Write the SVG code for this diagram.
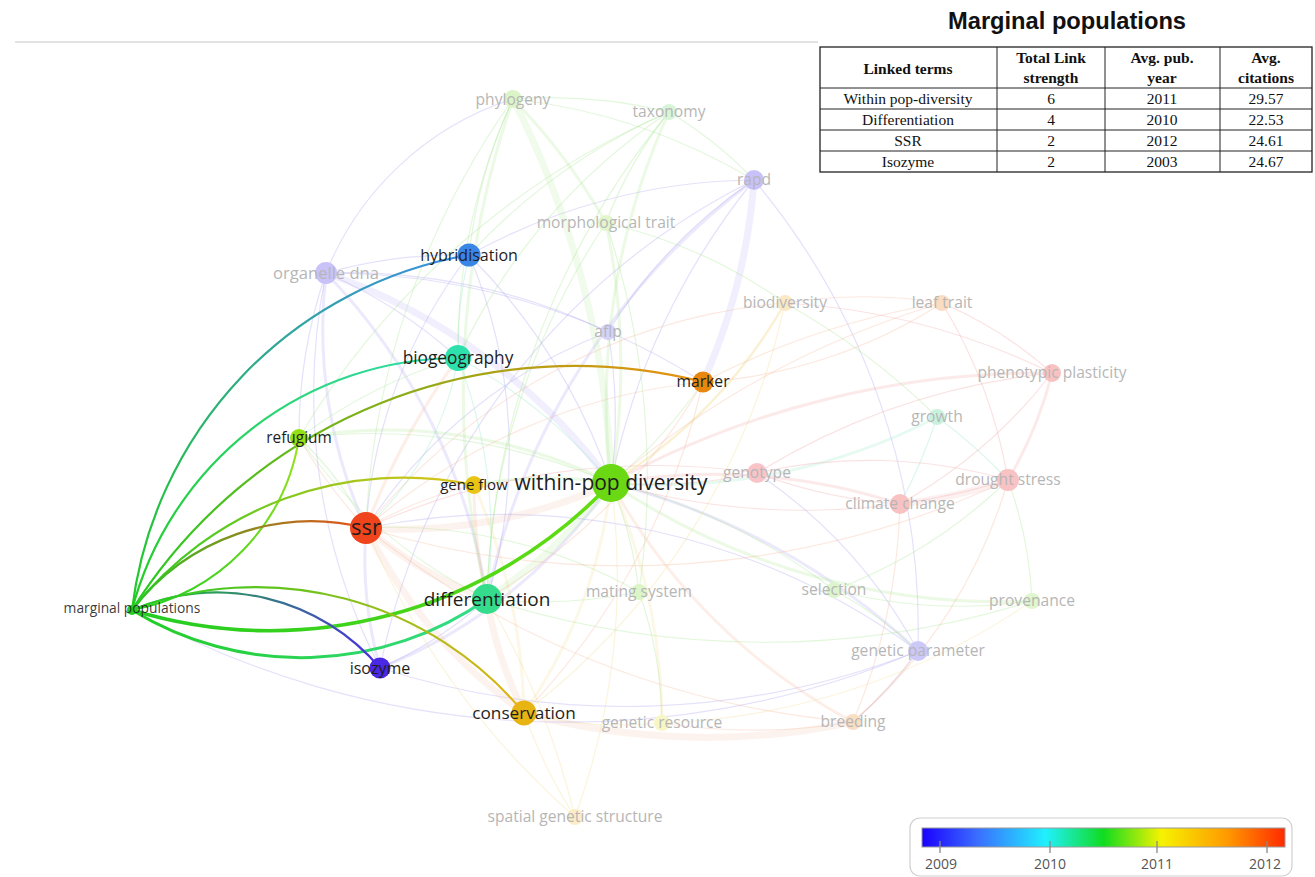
<svg xmlns="http://www.w3.org/2000/svg" width="1315" height="877" viewBox="0 0 1315 877">
<style>
.lbl{font-family:"Open Sans","Liberation Sans",sans-serif;text-anchor:middle}
.on{fill:#1e1e1e}
.off{fill:#b6b6b6}
#background-links path{fill:none;stroke-opacity:0.3;stroke-width:1.2}
.p{stroke:#a79cf0}.g{stroke:#a2e48a}.o{stroke:#f4b494}.y{stroke:#f2dc8c}.t{stroke:#8fe6c4}.r{stroke:#f3a0a0}
.w{stroke-width:7!important;stroke-opacity:0.16!important}
.m{stroke-width:3!important;stroke-opacity:0.22!important}
#marginal-links path{fill:none}
.tb{font-family:"Liberation Serif","Times New Roman",serif;font-size:15.5px;text-anchor:middle;fill:#111}
.th{font-weight:bold}
.lg{font-family:"Open Sans","Liberation Sans",sans-serif;font-size:14px;fill:#555;text-anchor:middle}
</style>
<defs>
<linearGradient id="gHyb" gradientUnits="userSpaceOnUse" x1="132" y1="610" x2="469" y2="255"><stop offset="0" stop-color="#22cc22"/><stop offset="1" stop-color="#3a8ee6"/></linearGradient>
<linearGradient id="gBio" gradientUnits="userSpaceOnUse" x1="132" y1="610" x2="458" y2="358"><stop offset="0" stop-color="#22cc22"/><stop offset="1" stop-color="#30dcb0"/></linearGradient>
<linearGradient id="gMrk" gradientUnits="userSpaceOnUse" x1="132" y1="610" x2="703" y2="382"><stop offset="0" stop-color="#22cc22"/><stop offset="1" stop-color="#e8900f"/></linearGradient>
<linearGradient id="gRef" gradientUnits="userSpaceOnUse" x1="132" y1="610" x2="299" y2="438"><stop offset="0" stop-color="#22cc22"/><stop offset="1" stop-color="#9ae21a"/></linearGradient>
<linearGradient id="gGf" gradientUnits="userSpaceOnUse" x1="132" y1="610" x2="474" y2="485"><stop offset="0" stop-color="#22cc22"/><stop offset="1" stop-color="#e2c41a"/></linearGradient>
<linearGradient id="gSsr" gradientUnits="userSpaceOnUse" x1="132" y1="610" x2="366" y2="528"><stop offset="0" stop-color="#22cc22"/><stop offset="1" stop-color="#e8501a"/></linearGradient>
<linearGradient id="gWpd" gradientUnits="userSpaceOnUse" x1="132" y1="610" x2="611" y2="483"><stop offset="0" stop-color="#22cc22"/><stop offset="1" stop-color="#66dd10"/></linearGradient>
<linearGradient id="gDif" gradientUnits="userSpaceOnUse" x1="132" y1="610" x2="487" y2="599"><stop offset="0" stop-color="#22cc22"/><stop offset="1" stop-color="#33dd8c"/></linearGradient>
<linearGradient id="gIso" gradientUnits="userSpaceOnUse" x1="132" y1="610" x2="380" y2="668"><stop offset="0" stop-color="#22cc22"/><stop offset="1" stop-color="#4a2ae6"/></linearGradient>
<linearGradient id="gCon" gradientUnits="userSpaceOnUse" x1="132" y1="610" x2="524" y2="713"><stop offset="0" stop-color="#22cc22"/><stop offset="1" stop-color="#e6b416"/></linearGradient>
<linearGradient id="gBar" x1="0" y1="0" x2="1" y2="0">
<stop offset="0" stop-color="#1a00ff"/><stop offset="0.15" stop-color="#3a6cff"/><stop offset="0.34" stop-color="#20f0ff"/><stop offset="0.5" stop-color="#10dc20"/><stop offset="0.66" stop-color="#f6f200"/><stop offset="0.84" stop-color="#ff9a00"/><stop offset="1" stop-color="#ff2a00"/>
</linearGradient>
</defs>
<rect width="1315" height="877" fill="#fff"/>
<line x1="15" y1="42" x2="818" y2="42" stroke="#d8d8d8" stroke-width="1.5"/>

<g id="connectors">
<g id="background-links">
<path class="p" d="M326 273 A480 480 0 0 1 469 255"/>
<path class="p" d="M326 273 A300 300 0 0 1 513 99"/>
<path class="p m" d="M366 528 A480 480 0 0 1 326 273"/>
<path class="p" d="M380 668 A600 600 0 0 1 326 273"/>
<path class="p w" d="M326 273 A600 600 0 0 1 611 483"/>
<path class="p m" d="M326 273 A600 600 0 0 1 487 599"/>
<path class="p" d="M326 273 A480 480 0 0 1 458 358"/>
<path class="p" d="M326 273 A600 600 0 0 1 608 332"/>
<path class="p" d="M326 273 A700 700 0 0 1 703 382"/>
<path class="p" d="M326 273 A500 500 0 0 0 299 438"/>
<path class="p w" d="M754 180 A600 600 0 0 1 703 382"/>
<path class="p" d="M754 180 A600 600 0 0 0 469 255"/>
<path class="p" d="M754 180 A500 500 0 0 0 608 332"/>
<path class="p m" d="M754 180 A700 700 0 0 0 487 599"/>
<path class="p" d="M754 180 A700 700 0 0 0 380 668"/>
<path class="p" d="M754 180 A700 700 0 0 1 918 651"/>
<path class="p" d="M754 180 A700 700 0 0 0 611 483"/>
<path class="p m" d="M918 651 A700 700 0 0 0 611 483"/>
<path class="p" d="M918 651 A500 500 0 0 0 757 473"/>
<path class="p" d="M918 651 A400 400 0 0 1 853 722"/>
<path class="p" d="M918 651 A700 700 0 0 0 366 528"/>
<path class="p" d="M918 651 A800 800 0 0 1 380 668"/>
<path class="p" d="M608 332 A500 500 0 0 1 611 483"/>
<path class="p" d="M608 332 A500 500 0 0 0 366 528"/>
<path class="p m" d="M380 668 A500 500 0 0 0 611 483"/>
<path class="p m" d="M380 668 A400 400 0 0 1 366 528"/>
<path class="p" d="M380 668 A400 400 0 0 0 487 599"/>
<path class="p" d="M469 255 A600 600 0 0 1 611 483"/>
<path class="p" d="M469 255 A500 500 0 0 1 487 599"/>
<path class="p" d="M469 255 A500 500 0 0 0 366 528"/>
<path class="t" d="M469 255 A400 400 0 0 0 458 358"/>
<path class="g w" d="M513 99 A900 900 0 0 1 611 483"/>
<path class="g" d="M513 99 A500 500 0 0 1 669 112"/>
<path class="g" d="M513 99 A500 500 0 0 0 469 255"/>
<path class="g" d="M513 99 A600 600 0 0 0 458 358"/>
<path class="g m" d="M513 99 A900 900 0 0 0 487 599"/>
<path class="g m" d="M513 99 A600 600 0 0 1 606 223"/>
<path class="g" d="M513 99 A600 600 0 0 1 754 180"/>
<path class="g" d="M513 99 A800 800 0 0 0 366 528"/>
<path class="g m" d="M669 112 A700 700 0 0 0 611 483"/>
<path class="g" d="M669 112 A400 400 0 0 0 606 223"/>
<path class="g" d="M669 112 A400 400 0 0 1 754 180"/>
<path class="g" d="M669 112 A600 600 0 0 0 469 255"/>
<path class="g" d="M669 112 A600 600 0 0 0 458 358"/>
<path class="g" d="M669 112 A800 800 0 0 0 487 599"/>
<path class="g" d="M669 112 A800 800 0 0 0 299 438"/>
<path class="g m" d="M606 223 A700 700 0 0 1 611 483"/>
<path class="g" d="M606 223 A700 700 0 0 0 487 599"/>
<path class="g" d="M606 223 A500 500 0 0 1 785 303"/>
<path class="g" d="M606 223 A800 800 0 0 1 639 592"/>
<path class="g" d="M639 592 A400 400 0 0 0 611 483"/>
<path class="g" d="M639 592 A500 500 0 0 0 366 528"/>
<path class="g" d="M639 592 A500 500 0 0 1 487 599"/>
<path class="g" d="M639 592 A400 400 0 0 1 662 723"/>
<path class="g" d="M834 590 A600 600 0 0 0 611 483"/>
<path class="g" d="M834 590 A400 400 0 0 1 918 651"/>
<path class="g" d="M834 590 A500 500 0 0 0 1008 480"/>
<path class="g" d="M834 590 A500 500 0 0 0 1032 601"/>
<path class="g m" d="M1032 601 A700 700 0 0 1 611 483"/>
<path class="g" d="M1032 601 A400 400 0 0 0 1008 480"/>
<path class="g w" d="M611 483 A500 500 0 0 1 487 599"/>
<path class="o w" d="M611 483 A500 500 0 0 1 366 528"/>
<path class="g m" d="M611 483 A400 400 0 0 0 474 485"/>
<path class="y m" d="M611 483 A500 500 0 0 1 524 713"/>
<path class="y" d="M611 483 A500 500 0 0 0 785 303"/>
<path class="r" d="M611 483 A500 500 0 0 0 757 473"/>
<path class="r m" d="M611 483 A600 600 0 0 1 900 504"/>
<path class="t m" d="M611 483 A600 600 0 0 0 937 417"/>
<path class="g" d="M611 483 A600 600 0 0 0 299 438"/>
<path class="g" d="M611 483 A500 500 0 0 0 703 382"/>
<path class="r" d="M611 483 A700 700 0 0 0 1008 480"/>
<path class="g" d="M299 438 A500 500 0 0 1 458 358"/>
<path class="g m" d="M299 438 A500 500 0 0 1 611 483"/>
<path class="g" d="M299 438 A300 300 0 0 1 366 528"/>
<path class="g" d="M299 438 A500 500 0 0 0 487 599"/>
<path class="t" d="M937 417 A500 500 0 0 1 900 504"/>
<path class="t" d="M937 417 A500 500 0 0 1 1008 480"/>
<path class="o w" d="M366 528 A400 400 0 0 0 487 599"/>
<path class="o" d="M366 528 A400 400 0 0 1 474 485"/>
<path class="o" d="M366 528 A600 600 0 0 1 785 303"/>
<path class="o w" d="M366 528 A500 500 0 0 0 524 713"/>
<path class="r" d="M366 528 A700 700 0 0 1 757 473"/>
<path class="o" d="M366 528 A600 600 0 0 1 703 382"/>
<path class="o" d="M366 528 A500 500 0 0 1 299 438"/>
<path class="o m" d="M366 528 A700 700 0 0 1 458 358"/>
<path class="o m" d="M474 485 A500 500 0 0 0 487 599"/>
<path class="y m" d="M474 485 A600 600 0 0 1 524 713"/>
<path class="r w" d="M900 504 A500 500 0 0 0 1008 480"/>
<path class="r" d="M900 504 A500 500 0 0 0 1052 373"/>
<path class="r m" d="M1008 480 A400 400 0 0 0 1052 373"/>
<path class="r" d="M1008 480 A500 500 0 0 0 942 303"/>
<path class="r" d="M942 303 A400 400 0 0 1 1052 373"/>
<path class="o" d="M942 303 A500 500 0 0 0 785 303"/>
<path class="y" d="M785 303 A700 700 0 0 1 524 713"/>
<path class="y m" d="M785 303 A500 500 0 0 1 611 483"/>
<path class="r" d="M757 473 A500 500 0 0 0 900 504"/>
<path class="r" d="M757 473 A500 500 0 0 1 1008 480"/>
<path class="o" d="M853 722 A500 500 0 0 0 918 651"/>
<path class="o m" d="M853 722 A600 600 0 0 1 611 483"/>
<path class="o w" d="M853 722 A700 700 0 0 1 524 713"/>
<path class="o" d="M853 722 A500 500 0 0 0 1008 480"/>
<path class="o" d="M853 722 A600 600 0 0 0 900 504"/>
<path class="o" d="M853 722 A900 900 0 0 1 366 528"/>
<path class="o w" d="M524 713 A400 400 0 0 1 487 599"/>
<path class="y" d="M524 713 A500 500 0 0 0 575 817"/>
<path class="y" d="M662 723 A400 400 0 0 1 524 713"/>
<path class="y m" d="M662 723 A600 600 0 0 0 611 483"/>
<path class="y" d="M575 817 A800 800 0 0 0 487 599"/>
<path class="y" d="M575 817 A800 800 0 0 1 366 528"/>
<path class="y" d="M575 817 A700 700 0 0 0 611 483"/>
<path class="r" d="M1052 373 A700 700 0 0 0 785 303"/>
<path class="r" d="M1052 373 A700 700 0 0 0 757 473"/>
<path class="r m" d="M1052 373 A900 900 0 0 0 611 483"/>
<path class="o" d="M942 303 A900 900 0 0 0 611 483"/>
<path class="o" d="M942 303 A800 800 0 0 0 703 382"/>
<path class="o" d="M1008 480 A900 900 0 0 1 366 528"/>
<path class="g" d="M1032 601 A900 900 0 0 1 487 599"/>
<path class="p" d="M918 651 A900 900 0 0 1 132 610"/>
<path class="y" d="M1032 601 A700 700 0 0 1 662 723"/>
<path class="o" d="M853 722 A600 600 0 0 1 662 723"/>
<path class="g" d="M937 417 A700 700 0 0 0 785 303"/>
<path class="t" d="M458 358 A500 500 0 0 1 611 483"/>
<path class="t" d="M458 358 A500 500 0 0 1 487 599"/>
<path class="t" d="M458 358 A300 300 0 0 1 366 528"/>
<path class="o" d="M703 382 A600 600 0 0 1 487 599"/>
<path class="o" d="M703 382 A700 700 0 0 1 524 713"/>
<path class="o" d="M703 382 A500 500 0 0 0 942 303"/>
</g>
<g id="marginal-links">
<path d="M132 610 A410 410 0 0 1 469 255" stroke="url(#gHyb)" stroke-width="2.2"/>
<path d="M132 610 A338 338 0 0 1 458 358" stroke="url(#gBio)" stroke-width="2.2"/>
<path d="M132 610 A523 523 0 0 1 703 382" stroke="url(#gMrk)" stroke-width="2.2"/>
<path d="M132 610 A208 208 0 0 0 299 438" stroke="url(#gRef)" stroke-width="2"/>
<path d="M132 610 A344 344 0 0 1 474 485" stroke="url(#gGf)" stroke-width="2.2"/>
<path d="M132 610 A226 226 0 0 1 366 528" stroke="url(#gSsr)" stroke-width="2.4"/>
<path d="M132 610 A468 468 0 0 0 611 483" stroke="url(#gWpd)" stroke-width="3.6"/>
<path d="M132 610 A324 324 0 0 0 487 599" stroke="url(#gDif)" stroke-width="3"/>
<path d="M132 610 A214 214 0 0 1 380 668" stroke="url(#gIso)" stroke-width="2.2"/>
<path d="M132 610 A348 348 0 0 1 524 713" stroke="url(#gCon)" stroke-width="2.2"/>
</g>
</g>

<g id="node-organelle-dna"><circle cx="326" cy="273" r="11" fill="#c9c2f8"/><text class="lbl off" x="326" y="279" font-size="16.6">organelle dna</text></g>
<g id="node-phylogeny"><circle cx="513" cy="99" r="9" fill="#dcf5c8"/><text class="lbl off" x="513" y="105" font-size="15.6">phylogeny</text></g>
<g id="node-taxonomy"><circle cx="669" cy="112" r="8" fill="#d8f5d8"/><text class="lbl off" x="669" y="117" font-size="15.6">taxonomy</text></g>
<g id="node-rapd"><circle cx="754" cy="180" r="10" fill="#c9c2f8"/><text class="lbl off" x="754" y="185" font-size="15.6">rapd</text></g>
<g id="node-morphological-trait"><circle cx="606" cy="223" r="8" fill="#e2f6cc"/><text class="lbl off" x="606" y="228" font-size="15.6">morphological trait</text></g>
<g id="node-aflp"><circle cx="608" cy="332" r="8" fill="#d4d2f8"/><text class="lbl off" x="608" y="337" font-size="15.6">aflp</text></g>
<g id="node-biodiversity"><circle cx="785" cy="303" r="8" fill="#fbe9c6"/><text class="lbl off" x="785" y="308" font-size="15.6">biodiversity</text></g>
<g id="node-leaf-trait"><circle cx="942" cy="303" r="8" fill="#fbdcc0"/><text class="lbl off" x="942" y="308" font-size="15.6">leaf trait</text></g>
<g id="node-phenotypic-plasticity"><circle cx="1052" cy="373" r="9" fill="#f9c2c2"/><text class="lbl off" x="1052" y="378" font-size="15.6">phenotypic plasticity</text></g>
<g id="node-growth"><circle cx="937" cy="417" r="8" fill="#c8f2de"/><text class="lbl off" x="937" y="422" font-size="15.6">growth</text></g>
<g id="node-genotype"><circle cx="757" cy="473" r="10" fill="#f9c4c8"/><text class="lbl off" x="757" y="478" font-size="15.6">genotype</text></g>
<g id="node-climate-change"><circle cx="900" cy="504" r="10" fill="#f9c2c2"/><text class="lbl off" x="900" y="509" font-size="15.6">climate change</text></g>
<g id="node-drought-stress"><circle cx="1008" cy="480" r="11" fill="#f9c2c4"/><text class="lbl off" x="1008" y="485" font-size="15.6">drought stress</text></g>
<g id="node-mating-system"><circle cx="639" cy="592" r="8" fill="#dcf5c8"/><text class="lbl off" x="639" y="597" font-size="15.6">mating system</text></g>
<g id="node-selection"><circle cx="834" cy="590" r="8" fill="#dcf5cc"/><text class="lbl off" x="834" y="595" font-size="15.6">selection</text></g>
<g id="node-provenance"><circle cx="1032" cy="601" r="8" fill="#e0f6cc"/><text class="lbl off" x="1032" y="606" font-size="15.6">provenance</text></g>
<g id="node-genetic-parameter"><circle cx="918" cy="651" r="10" fill="#ccc8f8"/><text class="lbl off" x="918" y="656" font-size="15.6">genetic parameter</text></g>
<g id="node-genetic-resource"><circle cx="662" cy="723" r="8" fill="#f8f6c4"/><text class="lbl off" x="662" y="728" font-size="15.6">genetic resource</text></g>
<g id="node-breeding"><circle cx="853" cy="722" r="8" fill="#fadec2"/><text class="lbl off" x="853" y="727" font-size="15.6">breeding</text></g>
<g id="node-spatial-genetic-structure"><circle cx="575" cy="817" r="8" fill="#fcecc8"/><text class="lbl off" x="575" y="822" font-size="15.6">spatial genetic structure</text></g>

<g id="node-marginal-populations"><circle cx="132" cy="610" r="5" fill="#22cc22"/><text class="lbl on" x="132" y="613" font-size="13.8" fill-opacity="0.9">marginal populations</text></g>
<g id="node-refugium"><circle cx="299" cy="438" r="9" fill="#94e016"/><text class="lbl on" x="299" y="443" font-size="15.4">refugium</text></g>
<g id="node-hybridisation"><circle cx="469" cy="255" r="11.5" fill="#3a86e6"/><text class="lbl on" x="469" y="261" font-size="16">hybridisation</text></g>
<g id="node-biogeography"><circle cx="458" cy="358" r="13" fill="#2ee0ac"/><text class="lbl on" x="458" y="364" font-size="17.3">biogeography</text></g>
<g id="node-marker"><circle cx="703" cy="382" r="10.5" fill="#e8860e"/><text class="lbl on" x="703" y="387" font-size="15.7">marker</text></g>
<g id="node-ssr"><circle cx="366" cy="528" r="16" fill="#f0441c"/><text class="lbl on" x="366" y="535" font-size="22">ssr</text></g>
<g id="node-gene-flow"><circle cx="474" cy="485" r="9" fill="#eac414"/><text class="lbl on" x="474" y="490" font-size="15">gene flow</text></g>
<g id="node-within-pop-diversity"><circle cx="611" cy="483" r="19" fill="#6ad812"/><text class="lbl on" x="611" y="490" font-size="21">within-pop diversity</text></g>
<g id="node-differentiation"><circle cx="487" cy="599" r="15" fill="#34dc8c"/><text class="lbl on" x="487" y="606" font-size="19">differentiation</text></g>
<g id="node-isozyme"><circle cx="380" cy="668" r="10.5" fill="#4a28e4"/><text class="lbl on" x="380" y="674" font-size="16">isozyme</text></g>
<g id="node-conservation"><circle cx="524" cy="713" r="12.5" fill="#e8b414"/><text class="lbl on" x="524" y="719" font-size="17.2">conservation</text></g>

<g id="table">
<text x="1067" y="29" font-family="Liberation Sans,Arial,sans-serif" font-weight="bold" font-size="23" text-anchor="middle" fill="#111" textLength="238" lengthAdjust="spacingAndGlyphs">Marginal populations</text>
<rect x="820" y="47" width="492" height="125" fill="#fff" stroke="#222" stroke-width="1.3"/>
<g stroke="#222" stroke-width="1">
<line x1="997" y1="47" x2="997" y2="172"/><line x1="1105" y1="47" x2="1105" y2="172"/><line x1="1220" y1="47" x2="1220" y2="172"/>
<line x1="820" y1="88" x2="1312" y2="88"/><line x1="820" y1="109" x2="1312" y2="109"/><line x1="820" y1="130" x2="1312" y2="130"/><line x1="820" y1="151" x2="1312" y2="151"/>
</g>
<text class="tb th" x="908" y="74">Linked terms</text>
<text class="tb th" x="1051" y="63">Total Link</text><text class="tb th" x="1051" y="83">strength</text>
<text class="tb th" x="1162" y="63">Avg. pub.</text><text class="tb th" x="1162" y="83">year</text>
<text class="tb th" x="1266" y="63">Avg.</text><text class="tb th" x="1266" y="83">citations</text>
<text class="tb" x="908" y="104">Within pop-diversity</text><text class="tb" x="1051" y="104">6</text><text class="tb" x="1162" y="104">2011</text><text class="tb" x="1266" y="104">29.57</text>
<text class="tb" x="908" y="125">Differentiation</text><text class="tb" x="1051" y="125">4</text><text class="tb" x="1162" y="125">2010</text><text class="tb" x="1266" y="125">22.53</text>
<text class="tb" x="908" y="146">SSR</text><text class="tb" x="1051" y="146">2</text><text class="tb" x="1162" y="146">2012</text><text class="tb" x="1266" y="146">24.61</text>
<text class="tb" x="908" y="167">Isozyme</text><text class="tb" x="1051" y="167">2</text><text class="tb" x="1162" y="167">2003</text><text class="tb" x="1266" y="167">24.67</text>
</g>

<g id="legend">
<rect x="910" y="818" width="382" height="58" rx="10" fill="#fff" stroke="#cfcfcf" stroke-width="1.2"/>
<rect x="922" y="828" width="363" height="19" fill="url(#gBar)" stroke="#9a9a9a" stroke-width="1"/>
<g stroke="#8a8a8a" stroke-width="1.3"><line x1="940" y1="841" x2="940" y2="853"/><line x1="1050" y1="841" x2="1050" y2="853"/><line x1="1157" y1="841" x2="1157" y2="853"/><line x1="1267" y1="841" x2="1267" y2="853"/></g>
<text class="lg" x="941" y="869">2009</text><text class="lg" x="1050" y="869">2010</text><text class="lg" x="1157" y="869">2011</text><text class="lg" x="1265" y="869">2012</text>
</g>
</svg>
